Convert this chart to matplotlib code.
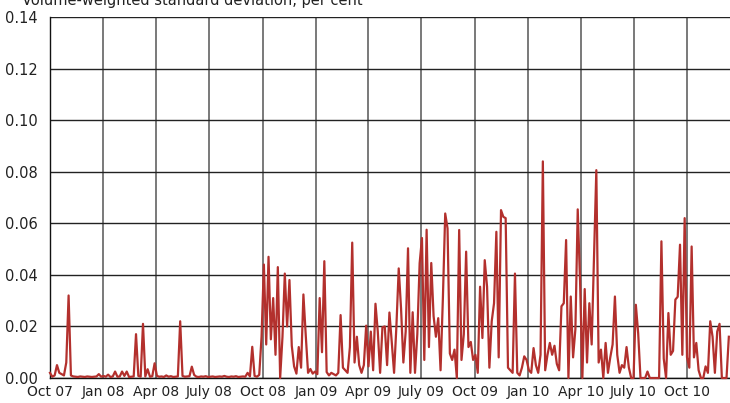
import numpy as np
import pandas as pd
import matplotlib
matplotlib.use("Agg")
import matplotlib.pyplot as plt
import matplotlib.dates as mdates

# volume-weighted standard deviation, sampled every 4 days from 1 Oct 2007
start = "2007-10-01"
q4_07 = [0.002, 0.0005, 0.001, 0.005, 0.002, 0.0015, 0.001, 0.006, 0.032, 0.001,
         0.0006, 0.0005, 0.0004, 0.0006, 0.0005, 0.0004, 0.0006, 0.0005, 0.0004,
         0.0005, 0.0006, 0.0015, 0.0005]
q1_08 = [0.0008, 0.0005, 0.0013, 0.0004, 0.0006, 0.0025, 0.0005, 0.0006, 0.0025,
         0.0008, 0.0025, 0.0004, 0.0005, 0.0006, 0.017, 0.0008, 0.0005, 0.021,
         0.0006, 0.0034, 0.0005, 0.0007, 0.0057]
q2_08 = [0.0008, 0.0005, 0.0006, 0.0004, 0.001, 0.0005, 0.0007, 0.0004, 0.0005,
         0.0006, 0.022, 0.0008, 0.0005, 0.0006, 0.0007, 0.0044, 0.0012, 0.0005,
         0.0004, 0.0006, 0.0005, 0.0007, 0.0004]
q3_08 = [0.0005, 0.0006, 0.0004, 0.0005, 0.0006, 0.0005, 0.0008, 0.0005, 0.0004,
         0.0006, 0.0005, 0.0007, 0.0004, 0.0005, 0.0006, 0.0005, 0.002, 0.0006,
         0.0121, 0.0008, 0.0005, 0.0012, 0.016]
q4_08 = [0.044, 0.013, 0.047, 0.015, 0.031, 0.009, 0.043, 0.0, 0.016, 0.0405,
         0.020, 0.038, 0.0125, 0.0045, 0.0017, 0.012, 0.004, 0.0324, 0.0167,
         0.002, 0.0035, 0.0017, 0.0025]
q1_09 = [0.0015, 0.031, 0.010, 0.0453, 0.0023, 0.001, 0.002, 0.0015, 0.001, 0.002,
         0.0244, 0.004, 0.003, 0.002, 0.012, 0.0525, 0.006, 0.016, 0.005, 0.002,
         0.005, 0.0203, 0.0045]
q2_09 = [0.018, 0.003, 0.0288, 0.018, 0.002, 0.0197, 0.020, 0.005, 0.0254, 0.014,
         0.002, 0.020, 0.0425, 0.027, 0.006, 0.018, 0.0503, 0.002, 0.0255, 0.002,
         0.017, 0.0445, 0.0543]
q3_09 = [0.007, 0.0575, 0.012, 0.0446, 0.024, 0.016, 0.0232, 0.003, 0.031, 0.0638,
         0.058, 0.0095, 0.007, 0.011, 0.0, 0.0574, 0.007, 0.017, 0.049, 0.012,
         0.014, 0.007, 0.009]
q4_09 = [0.002, 0.0354, 0.0155, 0.0457, 0.0354, 0.004, 0.022, 0.029, 0.0567, 0.008,
         0.0651, 0.0625, 0.062, 0.004, 0.003, 0.002, 0.0405, 0.002, 0.001, 0.004,
         0.0084, 0.007, 0.003]
q1_10 = [0.002, 0.0116, 0.005, 0.002, 0.009, 0.084, 0.003, 0.009, 0.0136, 0.009,
         0.0125, 0.0055, 0.003, 0.0278, 0.029, 0.0535, 0.0, 0.0316, 0.008, 0.019,
         0.0654, 0.0376, 0.0]
q2_10 = [0.0345, 0.006, 0.029, 0.013, 0.0465, 0.0806, 0.006, 0.011, 0.0, 0.0136,
         0.002, 0.008, 0.013, 0.0316, 0.009, 0.002, 0.005, 0.004, 0.012, 0.004,
         0.0, 0.0, 0.0284]
q3_10 = [0.0174, 0.0, 0.0, 0.0, 0.0025, 0.0, 0.0, 0.0, 0.0, 0.0, 0.053, 0.0075,
         0.0, 0.0252, 0.009, 0.0105, 0.0304, 0.0315, 0.0517, 0.009, 0.062, 0.008,
         0.004]
q4_10 = [0.051, 0.008, 0.0136, 0.003, 0.0, 0.0, 0.0045, 0.002, 0.022, 0.016,
         0.002, 0.018, 0.021, 0.0, 0.0, 0.0, 0.016]

values = (q4_07 + q1_08 + q2_08 + q3_08 + q4_08 + q1_09 + q2_09 + q3_09
          + q4_09 + q1_10 + q2_10 + q3_10 + q4_10)
dates = pd.date_range(start, periods=len(values), freq="4D")

tick_dates = pd.date_range("2007-10-01", "2010-10-01", freq="QS-OCT")
tick_labels = ["Oct 07", "Jan 08", "Apr 08", "July 08", "Oct 08", "Jan 09",
               "Apr 09", "July 09", "Oct 09", "Jan 10", "Apr 10", "July 10",
               "Oct 10"]
y_ticks = [0.00, 0.02, 0.04, 0.06, 0.08, 0.10, 0.12, 0.14]

plt.rcParams["font.family"] = ["DejaVu Sans"]

fig = plt.figure(figsize=(7.30, 4.03), dpi=100)
ax = fig.add_axes([50 / 730, 25 / 403, 680 / 730, 361 / 403])

ax.plot(dates, values, color="#b3302d", lw=1.6, zorder=3, clip_on=False)

ax.set_xlim(pd.Timestamp("2007-10-01"), pd.Timestamp("2010-12-14"))
ax.set_ylim(0, 0.14)
ax.set_yticks(y_ticks)
ax.set_yticklabels([f"{v:.2f}" for v in y_ticks], fontsize=10.5, color="#222222")
ax.set_xticks(tick_dates)
ax.set_xticklabels(tick_labels, fontsize=10, color="#222222")
ax.tick_params(axis="both", length=0)
ax.tick_params(axis="x", pad=5)
ax.tick_params(axis="y", pad=9)

ax.grid(axis="y", color="#222222", lw=1.0, zorder=1)
ax.grid(axis="x", color="#555555", lw=1.1, zorder=1)

for side in ["top", "right"]:
    ax.spines[side].set_visible(False)
ax.spines["left"].set_color("#111111")
ax.spines["bottom"].set_color("#111111")
ax.spines["left"].set_linewidth(1.0)
ax.spines["bottom"].set_linewidth(1.0)

fig.text(22 / 730, 1 - 4.5 / 403, "Volume-weighted standard deviation, per cent",
         fontsize=10.5, color="#222222", ha="left", va="baseline")

fig.savefig("out.png", dpi=100)
